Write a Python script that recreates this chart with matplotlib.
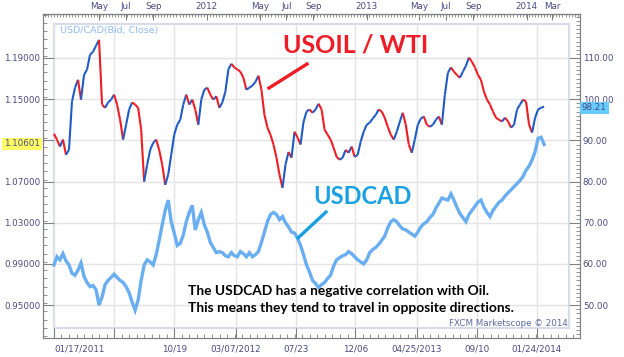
import numpy as np
import pandas as pd
import matplotlib
matplotlib.use('Agg')
import matplotlib.pyplot as plt
import matplotlib.dates as mdates
from matplotlib.collections import LineCollection
from matplotlib.lines import Line2D
from matplotlib.patches import Rectangle
from matplotlib.ticker import FixedLocator, MultipleLocator

# weekly closes, 01/17/2011 .. 02/10/2014
oil_close = [
    91.6, 90.2, 88.5, 90.2, 86.5, 87.7, 99.4, 102.8, 104.7, 99.9,
    105.9, 107.2, 110.8, 111.5, 113.0, 114.4, 98.7, 97.9, 99.2, 99.9,
    101.1, 98.7, 95.0, 90.2, 93.8, 97.5, 99.2, 98.7, 97.9, 92.6,
    80.0, 84.1, 87.7, 89.4, 90.2, 87.7, 84.1, 79.2, 81.7, 86.5,
    91.4, 93.8, 95.0, 98.7, 101.1, 98.7, 99.9, 97.5, 93.8, 99.9,
    102.3, 102.8, 101.1, 99.9, 100.7, 97.9, 99.2, 101.8, 107.2, 108.6,
    107.7, 107.2, 106.7, 105.2, 102.3, 102.8, 103.3, 104.2, 105.7, 102.3,
    96.2, 93.1, 91.4, 89.0, 85.8, 81.7, 78.5, 84.1, 87.2, 85.8,
    92.1, 90.7, 89.0, 94.5, 97.0, 97.5, 96.7, 97.5, 98.9, 97.5,
    92.6, 91.4, 90.2, 88.2, 86.0, 85.3, 85.8, 87.7, 87.0, 88.5,
    86.0, 86.5, 89.7, 92.1, 93.8, 94.3, 95.3, 96.2, 97.5, 97.0,
    95.5, 93.3, 91.4, 90.2, 92.1, 94.5, 96.7, 93.8, 89.0, 87.0,
    90.2, 93.8, 95.3, 95.8, 93.8, 93.3, 93.8, 95.0, 95.8, 93.8,
    101.1, 106.4, 107.7, 106.7, 105.9, 105.2, 106.7, 108.1, 110.1, 109.1,
    107.7, 105.9, 104.7, 101.8, 99.9, 98.7, 97.0, 95.5, 95.0, 94.6,
    95.5, 94.6, 93.1, 93.8, 97.5, 98.7, 99.9, 99.4, 93.8, 91.9,
    95.5, 97.5, 97.9, 98.21,
]
usdcad_close = [
    0.989, 0.997, 0.994, 1.000, 0.993, 0.989, 0.981, 0.979, 0.984, 0.991,
    0.978, 0.972, 0.968, 0.969, 0.965, 0.950, 0.958, 0.970, 0.974, 0.977,
    0.980, 0.977, 0.974, 0.972, 0.968, 0.962, 0.953, 0.945, 0.955, 0.974,
    0.989, 0.994, 0.992, 0.989, 0.999, 1.013, 1.028, 1.042, 1.052, 1.031,
    1.020, 1.008, 1.010, 1.018, 1.031, 1.040, 1.047, 1.023, 1.033, 1.040,
    1.028, 1.021, 1.011, 1.006, 1.001, 1.002, 1.001, 0.998, 0.997, 1.001,
    0.998, 0.997, 1.002, 1.000, 0.997, 1.001, 0.997, 0.999, 1.002, 1.011,
    1.021, 1.031, 1.038, 1.040, 1.038, 1.033, 1.036, 1.030, 1.026, 1.021,
    1.020, 1.015, 1.008, 0.999, 0.989, 0.982, 0.974, 0.971, 0.967, 0.970,
    0.972, 0.976, 0.979, 0.988, 0.994, 0.996, 0.998, 0.999, 1.002, 1.000,
    0.997, 0.994, 0.992, 0.990, 0.994, 1.001, 1.004, 1.006, 1.009, 1.013,
    1.017, 1.025, 1.031, 1.033, 1.031, 1.027, 1.024, 1.023, 1.021, 1.019,
    1.017, 1.021, 1.026, 1.029, 1.031, 1.035, 1.038, 1.044, 1.049, 1.054,
    1.053, 1.052, 1.058, 1.052, 1.045, 1.039, 1.035, 1.031, 1.038, 1.042,
    1.046, 1.050, 1.052, 1.045, 1.040, 1.036, 1.042, 1.046, 1.050, 1.052,
    1.056, 1.059, 1.062, 1.065, 1.068, 1.071, 1.075, 1.081, 1.085, 1.091,
    1.099, 1.112, 1.113, 1.10601,
]
dates = pd.date_range('2011-01-17', '2014-02-10', periods=len(oil_close))

left_ticks = [0.95, 0.99, 1.03, 1.07, 1.11, 1.15, 1.19]
left_labels = ['0.95000', '0.99000', '1.03000', '1.07000', '', '1.15000', '1.19000']
right_ticks = [50, 60, 70, 80, 90, 100, 110]
right_labels = ['50.00', '60.00', '70.00', '80.00', '90.00', '100.00', '110.00']
bottom_ticks = ['2011-01-17', '2011-06-03', '2011-10-19', '2012-03-07', '2012-07-23',
                '2012-12-06', '2013-04-25', '2013-09-10', '2014-01-24']
bottom_labels = ['01/17/2011', '', '10/19', '03/07/2012', '07/23',
                 '12/06', '04/25/2013', '09/10', '01/24/2014']
top_ticks = ['2011-05-01', '2011-07-01', '2011-09-01', '2012-01-01', '2012-05-01',
             '2012-07-01', '2012-09-01', '2013-01-01', '2013-05-01', '2013-07-01',
             '2013-09-01', '2014-01-01', '2014-03-01']
top_labels = ['May', 'Jul', 'Sep', '2012', 'May', 'Jul', 'Sep', '2013',
              'May', 'Jul', 'Sep', '2014', 'Mar']
last_usdcad = '1.10601'
last_oil = '98.21'

W, H = 624, 357
tick_col = '#4a4a80'
spine_col = '#808080'
red = '#ee1c25'
cyan = '#1ba1e2'

fig = plt.figure(figsize=(W / 100, H / 100), dpi=100)
ax = fig.add_axes([43 / W, (H - 338) / H, 537 / W, 324 / H])
ax2 = ax.twinx()

x = mdates.date2num(dates)
xmin = mdates.date2num(pd.Timestamp('2010-12-23'))
xmax = mdates.date2num(pd.Timestamp('2014-05-03'))

# USDCAD on the left scale
ax.plot(x, usdcad_close, color='#6aaef2', lw=2.4, solid_joinstyle='miter', zorder=3)

# oil as red/blue steps on the right scale
pts = np.column_stack([x, oil_close])
segs = np.stack([pts[:-1], pts[1:]], axis=1)
cols = [red if b < a else '#1f5bc4' for a, b in zip(oil_close[:-1], oil_close[1:])]
ax2.add_collection(LineCollection(segs, colors=cols, linewidths=1.5, zorder=3))

ax.set_xlim(xmin, xmax)
ax.set_ylim(0.9181, 1.2327)
ax2.set_ylim(42.03, 120.68)

# inner frame
frame = Rectangle((11 / 537, 10 / 324), 515 / 537, 304 / 324, transform=ax.transAxes,
                  fill=False, ec='#d6dde9', lw=1.5, zorder=1)
ax.add_patch(frame)

for a in (ax, ax2):
    for s in a.spines.values():
        s.set_color(spine_col)

ax.yaxis.set_major_locator(FixedLocator(left_ticks))
ax.set_yticklabels(left_labels)
ax.yaxis.set_minor_locator(MultipleLocator(0.008))
ax.xaxis.set_major_locator(FixedLocator(mdates.date2num(pd.to_datetime(bottom_ticks))))
ax.set_xticklabels(bottom_labels)
ax.get_xticklabels()[0].set_horizontalalignment('left')
ax.xaxis.set_minor_locator(FixedLocator(
    np.arange(mdates.date2num(pd.Timestamp('2011-01-17')), xmax, 137.6 / 8)))
ax2.yaxis.set_major_locator(FixedLocator(right_ticks))
ax2.set_yticklabels(right_labels)
ax2.yaxis.set_minor_locator(MultipleLocator(1))

ax.tick_params(axis='both', which='both', direction='in', color=spine_col,
               labelsize=6.3, labelcolor=tick_col, top=False, right=False)
ax.tick_params(axis='y', which='major', length=7.9, pad=2)
ax.tick_params(axis='y', which='minor', length=2.9)
ax.tick_params(axis='x', which='major', length=7.2, pad=5)
ax.tick_params(axis='x', which='minor', length=2.6)
ax2.tick_params(axis='y', which='both', direction='in', color=spine_col,
                labelsize=6.3, labelcolor=tick_col, pad=2)
ax2.tick_params(axis='y', which='major', length=7.9)
ax2.tick_params(axis='y', which='minor', length=2.9)

top = ax.secondary_xaxis('top')
top.set_xticks(mdates.date2num(pd.to_datetime(top_ticks)), top_labels)
top.xaxis.set_minor_locator(mdates.WeekdayLocator(byweekday=mdates.MO))
top.tick_params(which='both', direction='in', color=spine_col, labelsize=6.3,
                labelcolor=tick_col, pad=2)
top.tick_params(which='major', length=4)
top.tick_params(which='minor', length=2.2)
top.spines['top'].set_color(spine_col)

ax.grid(True, which='major', color='#e4e4e4', lw=1, zorder=0)
for g in ax.get_xgridlines() + ax.get_ygridlines():
    g.set_clip_path(frame)

# last-value boxes
fig.text(40 / W, 1 - 144 / H, last_usdcad, ha='right', va='center', fontsize=6.3,
         color=tick_col, bbox=dict(boxstyle='square,pad=0.2', fc='#ffff66', ec='none'))
fig.text(582 / W, 1 - 108 / H, last_oil, ha='left', va='center', fontsize=6.3,
         color=tick_col, zorder=10,
         bbox=dict(boxstyle='square,pad=0.2', fc='#66ccff', ec='none'))

fig.text(60 / W, 1 - 30 / H, 'USD/CAD(Bid, Close)', ha='left', va='center',
         fontsize=6.8, color='#8fbcf0')
fig.text(568 / W, 1 - 323 / H, 'FXCM Marketscope \u00a9 2014', ha='right', va='center',
         fontsize=6.3, color='#5a6a9c')

# annotations
fig.text(283 / W, 1 - 45 / H, 'USOIL / WTI', ha='left', va='center', fontsize=18,
         fontweight='bold', family='Lato', color=red)
fig.add_artist(Line2D([269 / W, 307 / W], [1 - 88 / H, 1 - 64 / H], color=red, lw=2.4))
fig.text(313 / W, 1 - 197 / H, 'USDCAD', ha='left', va='center', fontsize=17,
         fontweight='bold', family='Lato', color=cyan)
fig.add_artist(Line2D([298 / W, 326 / W], [1 - 238 / H, 1 - 212 / H], color=cyan, lw=2.4))
fig.text(188 / W, 1 - 291 / H, 'The USDCAD has a negative correlation with Oil.',
         ha='left', va='center', fontsize=9.9, fontweight='bold', family='Lato', color='black')
fig.text(188 / W, 1 - 308 / H, 'This means they tend to travel in opposite directions.',
         ha='left', va='center', fontsize=9.9, fontweight='bold', family='Lato', color='black')

fig.savefig('out.png', dpi=100, facecolor='white')
